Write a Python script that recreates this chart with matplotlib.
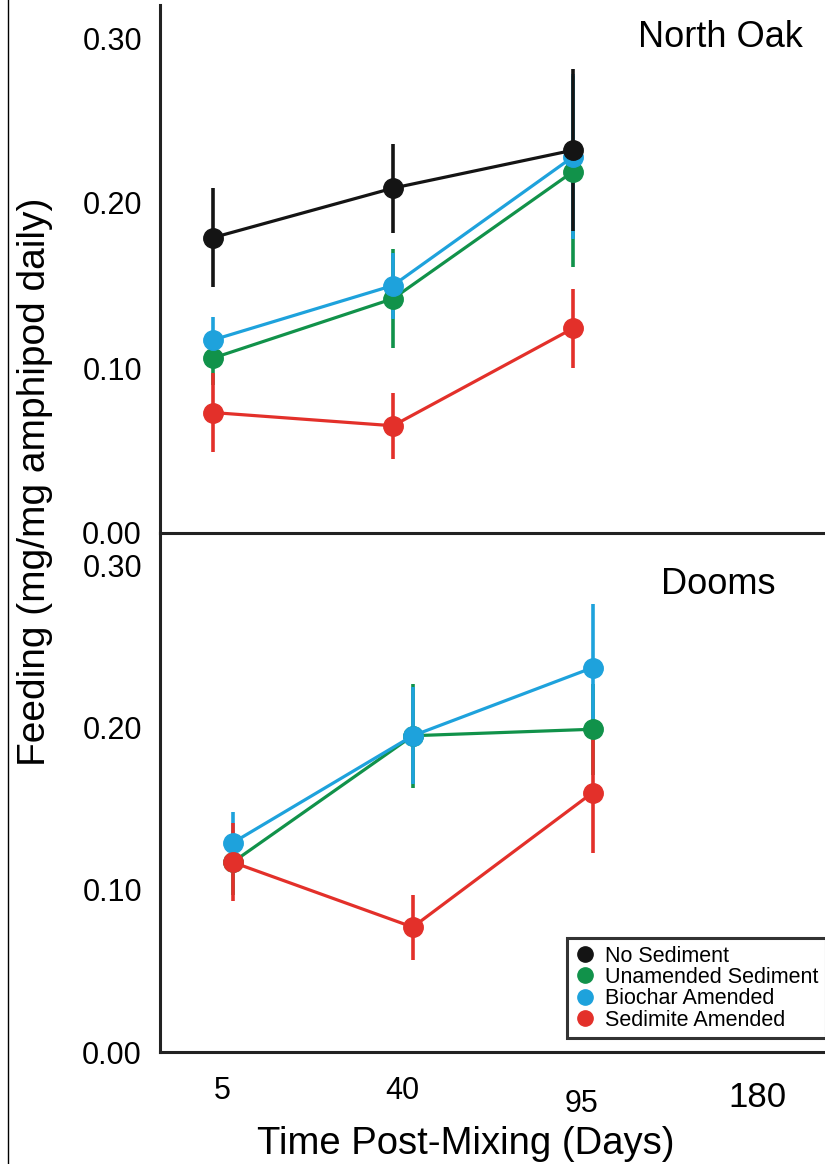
import numpy as np
import matplotlib
matplotlib.use("Agg")
import matplotlib.pyplot as plt
from matplotlib.lines import Line2D
from matplotlib.transforms import ScaledTranslation

plt.rcParams["font.family"] = ["Liberation Sans", "DejaVu Sans"]

# ---------------- Data ----------------
days = ["5", "40", "95", "180"]
series_names = ["No Sediment", "Unamended Sediment", "Biochar Amended", "Sedimite Amended"]
series_colors = ["#141414", "#11924a", "#1ea2dc", "#e3302a"]

# North Oak (top panel), 3 sampling times each
north_no_sed = [0.179, 0.209, 0.232]
north_no_sed_err = [0.030, 0.027, 0.049]
north_unamended = [0.106, 0.142, 0.219]
north_unamended_err = [0.016, 0.030, 0.058]
north_biochar = [0.117, 0.150, 0.228]
north_biochar_err = [0.014, 0.020, 0.050]
north_sedimite = [0.073, 0.065, 0.124]
north_sedimite_err = [0.024, 0.020, 0.024]

# Dooms (bottom panel), no "No Sediment" series
dooms_unamended = [0.117, 0.195, 0.199]
dooms_unamended_err = [0.020, 0.032, 0.028]
dooms_biochar = [0.129, 0.195, 0.237]
dooms_biochar_err = [0.019, 0.030, 0.039]
dooms_sedimite = [0.117, 0.077, 0.160]
dooms_sedimite_err = [0.024, 0.020, 0.037]

y_ticks = [0.0, 0.1, 0.2, 0.3]
y_tick_labels = ["0.00", "0.10", "0.20", "0.30"]

# ---------------- Figure ----------------
W, H = 825, 1164
fig = plt.figure(figsize=(W / 100, H / 100), dpi=100)
fig.patch.set_facecolor("white")

left = 160 / W
ax_top = fig.add_axes([left, (H - 533) / H, 1 - left, (533 - 5) / H])
ax_bot = fig.add_axes([left, (H - 1052) / H, 1 - left, (1052 - 533) / H])

x_idx = np.arange(len(days))


def draw(ax, series, shift):
    for name, vals, errs in series:
        i = series_names.index(name)
        ax.errorbar(x_idx[:len(vals)] + shift, vals, yerr=errs, color=series_colors[i],
                    marker="o", ms=14, lw=2.3, elinewidth=2.6, capsize=0)


# draw order: green, blue, red, black
draw(ax_top, [("Unamended Sediment", north_unamended, north_unamended_err),
              ("Biochar Amended", north_biochar, north_biochar_err),
              ("Sedimite Amended", north_sedimite, north_sedimite_err),
              ("No Sediment", north_no_sed, north_no_sed_err)], -0.05)
draw(ax_bot, [("Unamended Sediment", dooms_unamended, dooms_unamended_err),
              ("Biochar Amended", dooms_biochar, dooms_biochar_err),
              ("Sedimite Amended", dooms_sedimite, dooms_sedimite_err)], 0.06)

for ax in (ax_top, ax_bot):
    ax.set_xlim(-0.344, 3.35)
    ax.set_ylim(0, 0.32)
    ax.set_yticks(y_ticks, y_tick_labels)
    ax.tick_params(axis="y", length=0, pad=13, labelsize=22)
    ax.spines["top"].set_visible(False)
    ax.spines["right"].set_visible(False)
    ax.spines["left"].set_linewidth(2.2)
    ax.spines["bottom"].set_linewidth(2.2)
    ax.spines["left"].set_color("#222222")
    ax.spines["bottom"].set_color("#222222")
    ax.patch.set_alpha(0)

ax_top.set_xticks([])
ax_bot.set_xticks(x_idx, days)
ax_bot.tick_params(axis="x", length=0, pad=17, labelsize=22)
xlabels = ax_bot.get_xticklabels()
xlabels[2].set_transform(xlabels[2].get_transform() + ScaledTranslation(0, -13 / 100, fig.dpi_scale_trans))
xlabels[3].set_fontsize(25)
xlabels[3].set_transform(xlabels[3].get_transform() + ScaledTranslation(-5 / 100, -5 / 100, fig.dpi_scale_trans))

ax_top.text(0.967, 0.939, "North Oak", transform=ax_top.transAxes, ha="right", va="center", fontsize=26)
ax_bot.text(0.925, 0.90, "Dooms", transform=ax_bot.transAxes, ha="right", va="center", fontsize=26)

fig.text(35 / W, (H - 482) / H, "Feeding (mg/mg amphipod daily)", rotation=90,
         ha="center", va="center", fontsize=28)
fig.text(466 / W, 2 / H, "Time Post-Mixing (Days)", ha="center", va="bottom", fontsize=27.5)

# thin frame line at the far left
fig.add_artist(Line2D([8 / W, 8 / W], [0, 1], transform=fig.transFigure, lw=1, color="black"))

handles = [Line2D([], [], ls="none", marker="o", ms=11, color=c) for c in series_colors]
leg = ax_bot.legend(handles, series_names, loc="upper left",
                    bbox_to_anchor=(567 / W, (H - 938) / H), bbox_transform=fig.transFigure,
                    fontsize=15.5, frameon=True, fancybox=False, edgecolor="black",
                    handlelength=1.0, handletextpad=0.4, labelspacing=0.02,
                    borderpad=0.35, borderaxespad=0)
leg.get_frame().set_linewidth(2.2)

fig.savefig("out.png", dpi=100)
